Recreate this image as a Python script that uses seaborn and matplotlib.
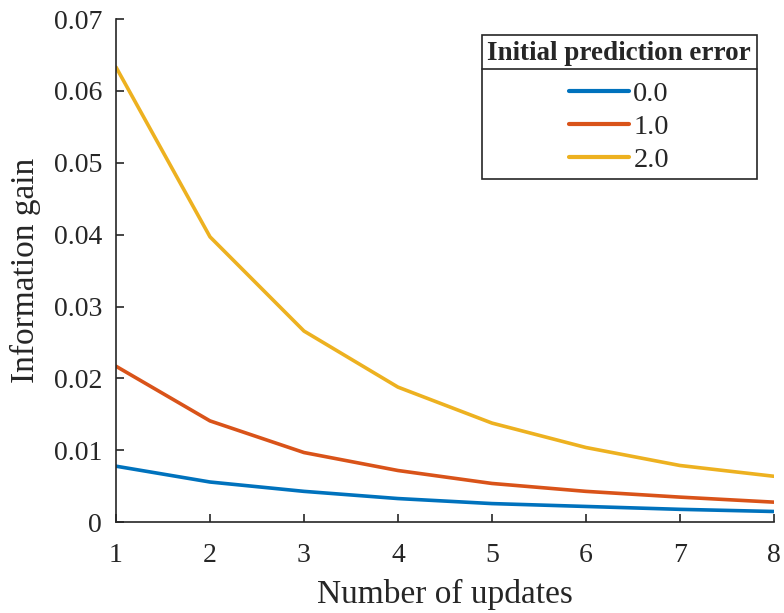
import pandas as pd
import matplotlib
matplotlib.use("Agg")
import matplotlib.pyplot as plt
from matplotlib.lines import Line2D
import seaborn as sns

# -------------------------------
# Data
# -------------------------------
updates = [1, 2, 3, 4, 5, 6, 7, 8]
gain_err0 = [0.0078, 0.0056, 0.0043, 0.0033, 0.0026, 0.0022, 0.0018, 0.0015]
gain_err1 = [0.0217, 0.0141, 0.0097, 0.0072, 0.0054, 0.0043, 0.0035, 0.0028]
gain_err2 = [0.0633, 0.0397, 0.0266, 0.0188, 0.0138, 0.0104, 0.0079, 0.0064]
error_labels = ["0.0", "1.0", "2.0"]
y_ticks = [0, 0.01, 0.02, 0.03, 0.04, 0.05, 0.06, 0.07]
y_tick_labels = ["0", "0.01", "0.02", "0.03", "0.04", "0.05", "0.06", "0.07"]

# long-form table for seaborn
df = pd.concat([
    pd.DataFrame({"updates": updates, "gain": g, "error": lab})
    for g, lab in zip([gain_err0, gain_err1, gain_err2], error_labels)
])

# MATLAB default colours
palette = {"0.0": "#0072BD", "1.0": "#D95319", "2.0": "#EDB120"}

sns.set_style("ticks")
plt.rcParams["font.family"] = ["Liberation Serif", "DejaVu Serif"]

fig = plt.figure(figsize=(7.84, 6.13), dpi=100)
ax = fig.add_axes([0.148, 0.148, 0.839, 0.821])

sns.lineplot(data=df, x="updates", y="gain", hue="error", palette=palette,
             linewidth=2.6, ax=ax)

ax.set_xlim(1, 8)
ax.set_ylim(0, 0.07)
ax.set_xticks(updates)
ax.set_yticks(y_ticks)
ax.set_yticklabels(y_tick_labels)
ax.tick_params(direction="in", length=6, width=1.2, labelsize=20,
               color="#262626", labelcolor="#262626")
ax.tick_params(axis="x", pad=15)
ax.tick_params(axis="y", pad=10)
for side in ["top", "right"]:
    ax.spines[side].set_visible(False)
for side in ["left", "bottom"]:
    ax.spines[side].set_linewidth(1.2)
    ax.spines[side].set_color("#262626")

ax.set_xlabel("Number of updates", fontsize=24, color="#262626", labelpad=8)
ax.set_ylabel("Information gain", fontsize=24, color="#262626", labelpad=9)

leg = ax.legend(title="Initial prediction error", loc="upper right",
                bbox_to_anchor=(0.974, 0.968), borderaxespad=0, fontsize=20.5,
                title_fontproperties={"weight": "bold", "size": 19.5},
                handlelength=2.1, handletextpad=0.15, labelspacing=0.25,
                borderpad=0.2, fancybox=False, framealpha=1,
                edgecolor="#262626")
leg.get_frame().set_linewidth(1.2)
leg._legend_box.sep = 11  # a bit more room between title and entries
for line in leg.get_lines():
    line.set_linewidth(3)

# separator line under the legend title (MATLAB style)
fig.canvas.draw()
renderer = fig.canvas.get_renderer()
frame_bb = leg.get_frame().get_window_extent(renderer)
title_bb = leg.get_title().get_window_extent(renderer)
y_sep = title_bb.y0 - 3
inv = fig.transFigure.inverted()
(x0, y0) = inv.transform((frame_bb.x0, y_sep))
(x1, _) = inv.transform((frame_bb.x1, y_sep))
fig.add_artist(Line2D([x0, x1], [y0, y0], color="#262626", linewidth=1.2,
                      transform=fig.transFigure, zorder=10))

fig.savefig("out.png", dpi=100)
